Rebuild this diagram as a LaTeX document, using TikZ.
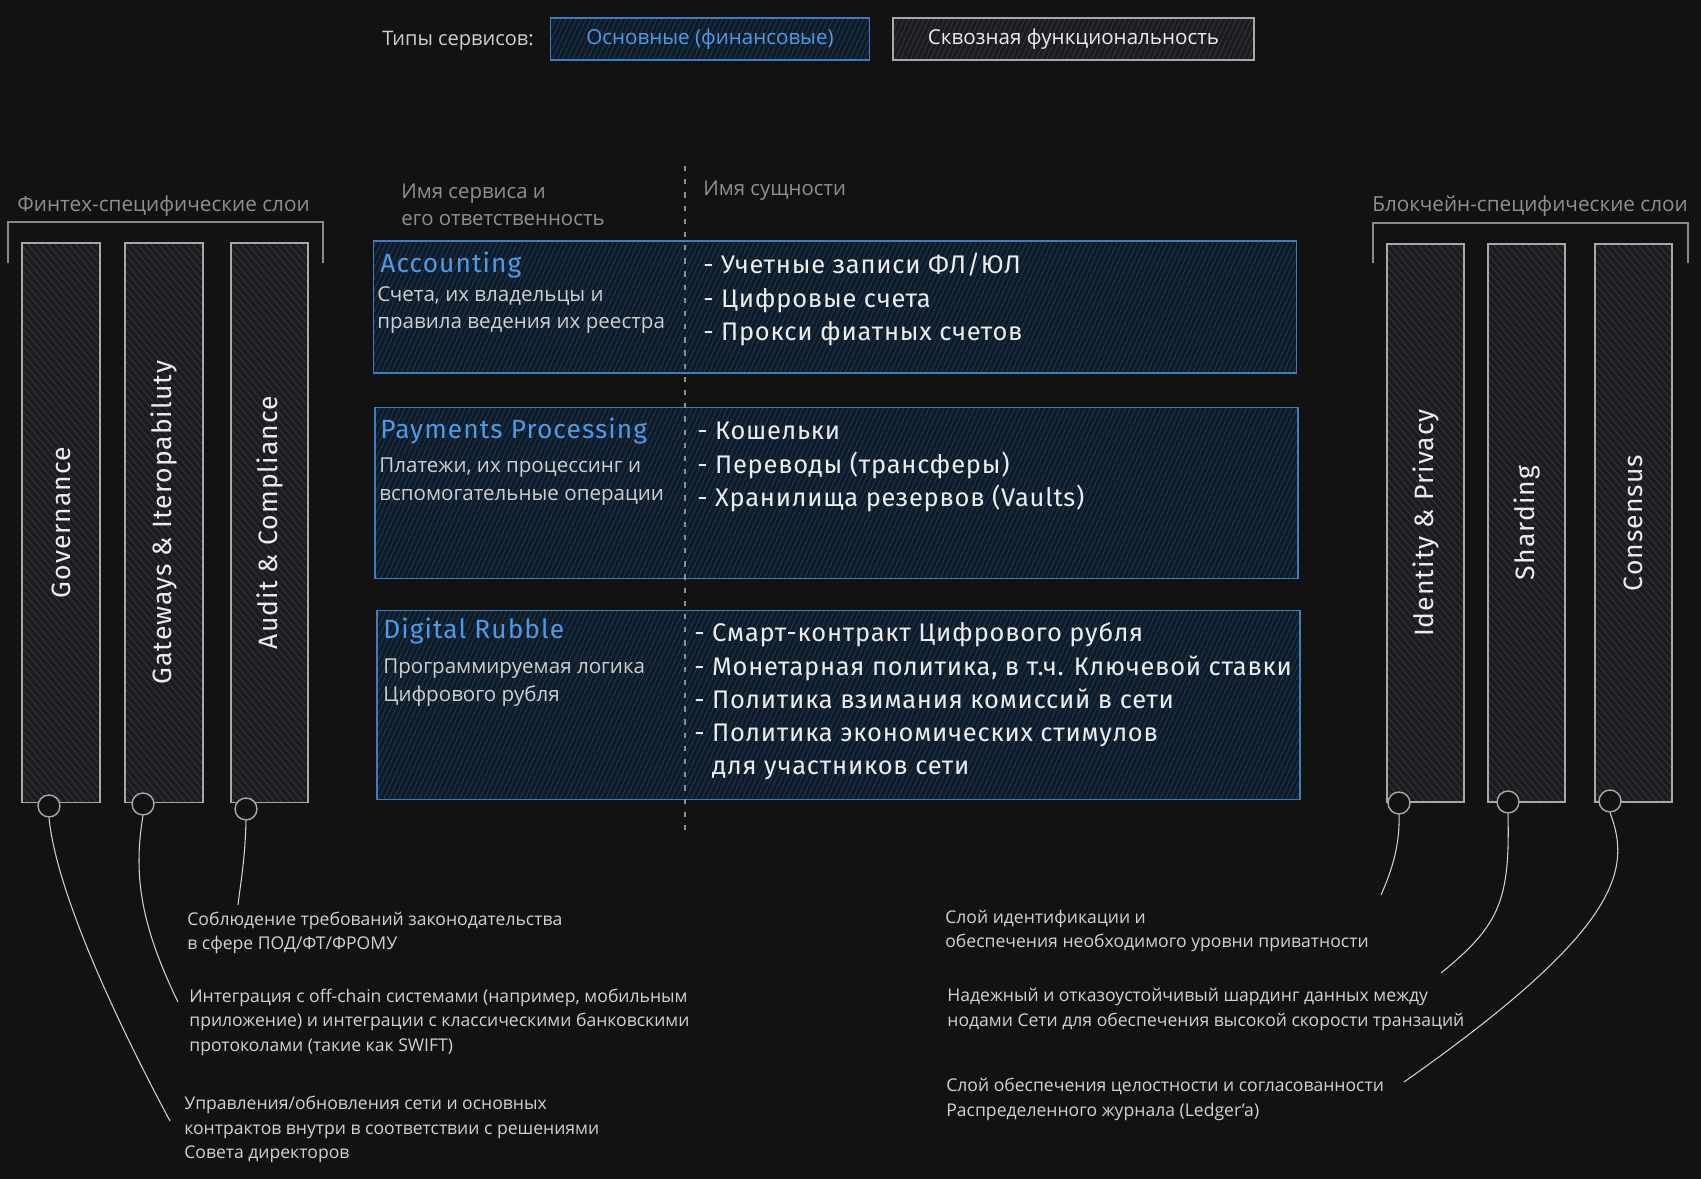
\documentclass[tikz,border=0pt]{standalone}
\usepackage{fontspec}
\setmainfont{Open Sans}
\newfontfamily\handfont{Fira Sans}
\newfontfamily\handfontw{Fira Sans}[LetterSpace=3]
\newfontfamily\handfontx{Fira Sans}[LetterSpace=4]
\usetikzlibrary{patterns.meta}
\definecolor{bg}{HTML}{121212}
\definecolor{colfill}{HTML}{1B1C1F}
\definecolor{colhatch}{HTML}{34363B}
\definecolor{colborder}{HTML}{A8A8A8}
\definecolor{bluefill}{HTML}{0F1B27}
\definecolor{bluehatch}{HTML}{1F3A57}
\definecolor{blueborder}{HTML}{3D7CC0}
\definecolor{titleblue}{HTML}{4D9BE6}
\definecolor{entitytext}{HTML}{ECECEC}
\definecolor{desctext}{HTML}{CFCFCF}
\definecolor{headgray}{HTML}{8B9096}
\definecolor{notetext}{HTML}{D2D2D2}
\definecolor{bracketgray}{HTML}{8A8A8A}
\begin{document}
\begin{tikzpicture}[x=0.02cm,y=-0.02cm,
  colbox/.style={draw=colborder, line width=1pt, preaction={fill=colfill},
    pattern={Lines[angle=-50,distance=3pt,line width=0.5pt]}, pattern color=colhatch,
    inner sep=0pt, minimum width={78*0.5669pt}, minimum height={562*0.5669pt}},
  svcbox/.style={draw=blueborder, line width=0.9pt, preaction={fill=bluefill},
    pattern={Lines[angle=65,distance=2.6pt,line width=0.45pt]}, pattern color=bluehatch,
    inner sep=0pt, minimum width={927*0.5669pt}},
  legblue/.style={svcbox, minimum width={320*0.5669pt}, minimum height={42*0.5669pt},
    text=titleblue, font=\fontsize{11.7}{13}\selectfont},
  leggray/.style={draw=colborder, line width=0.9pt, preaction={fill=colfill},
    pattern={Lines[angle=65,distance=2.6pt,line width=0.45pt]}, pattern color=colhatch,
    inner sep=0pt, minimum width={363*0.5669pt}, minimum height={42*0.5669pt},
    text=entitytext, font=\fontsize{11.7}{13}\selectfont},
  collabel/.style={rotate=90, text=entitytext, font=\handfontx\fontsize{15.1}{17}\selectfont, inner sep=0pt},
  dotnode/.style={circle, draw=colborder, fill=bg, line width=0.8pt, inner sep=0pt, minimum size={22*0.5669pt}},
  svctitle/.style={anchor=west, inner sep=0pt, text=titleblue, font=\handfontx\fontsize{15}{17}\selectfont},
  svcdesc/.style={anchor=west, inner sep=0pt, align=left, text=desctext, font=\fontsize{11.7}{15.9}\selectfont},
  entities/.style={anchor=west, inner sep=0pt, align=left, text=entitytext, font=\handfontw\fontsize{14.5}{18.9}\selectfont},
  headtext/.style={inner sep=0pt, text=headgray, font=\fontsize{11.6}{15.3}\selectfont},
  sidehead/.style={inner sep=0pt, text=headgray, font=\fontsize{11.8}{14}\selectfont},
  note/.style={anchor=west, inner sep=0pt, align=left, text=notetext, font=\fontsize{10}{13.9}\selectfont},
  leader/.style={draw=notetext, line width=0.6pt},
  bracketline/.style={draw=bracketgray, line width=0.8pt},
  dashline/.style={draw=headgray, line width=0.8pt, dash pattern=on 3pt off 4.5pt}
]
\path[use as bounding box, fill=bg] (0,0) rectangle (1701,1179);

% legend
\node[anchor=west, inner sep=0pt, text=desctext, font=\fontsize{11.4}{13}\selectfont] (legtitle) at (382,41) {Типы сервисов:};
\node[legblue] (legcore) at (710,39) {\raisebox{-1pt}{Основные (финансовые)}};
\node[leggray] (legcross) at (1073.5,39) {\raisebox{-1pt}{Сквозная функциональность}};

% side headers and brackets
\node[sidehead, anchor=west] (fintechhead) at (17,206) {Финтех-специфические слои};
\draw[bracketline] (8,263) -- (8,222) -- (323,222) -- (323,263);
\node[sidehead, anchor=west] (chainhead) at (1372,206) {Блокчейн-специфические слои};
\draw[bracketline] (1373,263) -- (1373,223) -- (1688,223) -- (1688,263);

% left columns
\node[colbox] (gov) at (61,522.5) {};
\node[colbox] (gw) at (164,522.5) {};
\node[colbox] (aud) at (269.5,522.5) {};
\node[collabel] (govl) at (gov.center) {Governance};
\node[collabel] (gwl) at (gw.center) {Gateways \& Iteropabiluty};
\node[collabel] (audl) at (aud.center) {Audit \& Compliance};
\node[dotnode] (govc) at (49,806) {};
\node[dotnode] (gwc) at (143,804) {};
\node[dotnode] (audc) at (246,809) {};

% right columns
\node[colbox, minimum height={560*0.5669pt}] (idp) at (1425.5,523) {};
\node[colbox, minimum height={560*0.5669pt}] (shd) at (1526.5,523) {};
\node[colbox, minimum height={560*0.5669pt}] (cns) at (1633.5,523) {};
\node[collabel] (idpl) at (idp.center) {Identity \& Privacy};
\node[collabel] (shdl) at (shd.center) {Sharding};
\node[collabel] (cnsl) at (cns.center) {Consensus};
\node[dotnode] (idpc) at (1399,803) {};
\node[dotnode] (shdc) at (1508,802) {};
\node[dotnode] (cnsc) at (1610,801) {};

% center column headers
\node[headtext, anchor=west, align=left] (svchead) at (401,204.5) {Имя сервиса и\\его ответственность};
\node[headtext, anchor=west] (enthead) at (703,191) {Имя сущности};

% service boxes
\node[svcbox, minimum height={132*0.5669pt}] (acc) at (835,307) {};
\node[svcbox, minimum height={172*0.5669pt}] (pay) at (836.5,493) {};
\node[svcbox, minimum height={190*0.5669pt}] (dr) at (838.5,705) {};

\draw[dashline] (685,166) -- (685,833);

% Accounting
\node[svctitle] (acct) at (380,265) {Accounting};
\node[svcdesc] (accd) at (377,310) {Счета, их владельцы и\\правила ведения их реестра};
\node[entities] (acce) at (703,299.5) {- Учетные записи ФЛ/ЮЛ\\- Цифровые счета\\- Прокси фиатных счетов};

% Payments
\node[svctitle] (payt) at (380,431) {Payments Processing};
\node[svcdesc] (payd) at (379,482) {Платежи, их процессинг и\\вспомогательные операции};
\node[entities] (paye) at (697,467) {- Кошельки\\- Переводы (трансферы)\\- Хранилища резервов (Vaults)};

% Digital Rubble
\node[svctitle] (drt) at (383,631) {Digital Rubble};
\node[svcdesc] (drd) at (383,683) {Программируемая логика\\Цифрового рубля};
\node[entities] (dre) at (694,701.5) {- Смарт-контракт Цифрового рубля\\- Монетарная политика, в т.ч. Ключевой ставки\\- Политика взимания комиссий в сети\\- Политика экономических стимулов\\\phantom{- }для участников сети};

% left notes
\node[note] (audn) at (187,933) {Соблюдение требований законодательства\\в сфере ПОД/ФТ/ФРОМУ};
\node[note] (gwn) at (189,1022) {Интеграция с off-chain системами (например, мобильным\\приложение) и интеграции с классическими банковскими\\протоколами (такие как SWIFT)};
\node[note] (govn) at (184,1129.5) {Управления/обновления сети и основных\\контрактов внутри в соответствии с решениями\\Совета директоров};

% right notes
\node[note] (idpn) at (945,931) {Слой идентификации и\\обеспечения необходимого уровни приватности};
\node[note] (shdn) at (947,1009.5) {Надежный и отказоустойчивый шардинг данных между\\нодами Сети для обеспечения высокой скорости транзаций};
\node[note] (cnsn) at (946,1099.5) {Слой обеспечения целостности и согласованности\\Распределенного журнала (Ledger'a)};

% leader free ends
\coordinate (govend) at (170,1121);
\coordinate (gwend) at (178,1002);
\coordinate (audend) at (238,905);
\coordinate (idpend) at (1381,895);
\coordinate (shdend) at (1441,973);
\coordinate (cnsend) at (1404,1082);

\draw[leader] (govc.south) .. controls (55,880) and (100,990) .. (govend);
\draw[leader] (gwc.south) .. controls (134,870) and (138,920) .. (gwend);
\draw[leader] (audc.south) .. controls (245,860) and (241,880) .. (audend);
\draw[leader] (idpc.south) .. controls (1400,845) and (1392,870) .. (idpend);
\draw[leader] (shdc.south) .. controls (1510,900) and (1500,925) .. (shdend);
\draw[leader] (cnsc.south) .. controls (1632,870) and (1620,930) .. (cnsend);
\end{tikzpicture}
\end{document}
